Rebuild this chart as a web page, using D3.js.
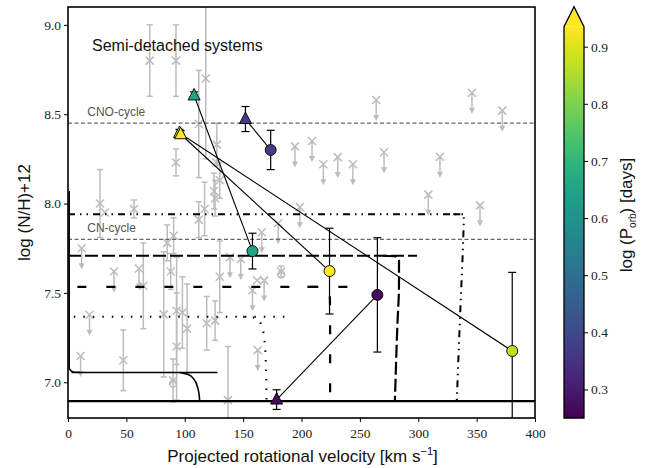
<!DOCTYPE html>
<html><head><meta charset="utf-8">
<script src="https://cdn.jsdelivr.net/npm/d3@7"></script>
<style>body{margin:0;background:#fff}</style>
</head><body><svg id="c" width="649" height="468"></svg>
<script>
// ---------------- data ----------------
// grey comparison sample: vsini, log(N/H)+12, error (0 = none), upper limit flag
const greyV   = [70, 92.5, 118, 112, 92.5, 127.5, 127, 130, 125,
                 264, 346, 372, 209, 218.7, 231, 244, 270.7, 318.6, 308.6, 352.9, 194.4,
                 27.4, 31.7, 56.5, 11.7, 39.4, 60.8, 18.4, 10.8, 47.4, 64.5,
                 112, 117, 126, 138.7, 148, 130, 158, 162, 168, 166, 180, 198.6, 182.6, 162.5,
                 137, 90, 118.8, 126,
                 82, 85, 90.5, 88, 93, 98, 93, 102];
const greyN   = [8.80, 8.80, 8.70, 8.445, 8.23, 8.33, 8.23, 8.13, 8.07,
                 8.58, 8.62, 8.52, 8.35, 8.22, 8.26, 8.22, 8.287, 8.262, 8.05, 7.99, 8.32,
                 8.00, 7.95, 7.97, 7.75, 7.62, 7.637, 7.378, 7.147, 7.123, 7.54,
                 7.91, 7.97, 8.03, 7.70, 7.69, 7.59, 7.515, 7.57, 7.57, 7.84, 7.89, 7.98, 7.62, 7.18,
                 6.90, 7.01, 7.33, 7.345,
                 7.38, 7.78, 7.82, 7.62, 7.40, 7.39, 7.20, 7.30];
const greyErr = [0.2, 0.2, 0.45, 0.3, 0.075, 0.12, 0, 0.1, 0.1,
                 0, 0, 0, 0, 0, 0, 0, 0, 0, 0, 0, 0,
                 0.19, 0, 0.05, 0, 0, 0, 0, 0, 0.17, 0.24,
                 0.1, 0.15, 0.1, 0, 0, 0.2, 0, 0, 0, 0, 0, 0, 0.03, 0,
                 0.3, 0.12, 0.15, 0.11,
                 0.35, 0.1, 0.1, 0.1, 0.3, 0.2, 0.3, 0.25];
const greyLim = [0, 0, 0, 0, 0, 0, 0, 0, 0,
                 1, 1, 1, 1, 1, 1, 1, 1, 1, 1, 1, 1,
                 0, 0, 0, 1, 1, 1, 1, 1, 0, 0,
                 0, 0, 0, 1, 1, 0, 1, 0, 1, 1, 1, 1, 0, 1,
                 0, 0, 0, 0,
                 0, 0, 0, 0, 0, 0, 0, 0];
// grey open-circle markers (binaries in the comparison sample)
const greyCircV = [90, 182.6];
const greyCircN = [7.01, 7.62];

// semi-detached systems: primary (triangle) and secondary (circle)
const sysTriV   = [178.7, 152, 108, 95.5, 96.5];
const sysTriN   = [6.903, 8.473, 8.605, 8.395, 8.388];
const sysTriErr = [0.055, 0.07, 0.02, 0.02, 0.02];
const sysCirV   = [265, 173.6, 158, 380.5, 224];
const sysCirN   = [7.489, 8.30, 7.734, 7.175, 7.622];
const sysCirErr = [0.32, 0.11, 0.10, 0.44, 0.24];
const sysLogP   = [0.27, 0.37, 0.65, 0.87, 0.93];

// reference nucleosynthesis levels
const refLevels = [8.45, 7.80];
const refLabels = ["CNO-cycle", "CN-cycle"];

// model tracks: horizontal initial levels and bending tracks
const trackHoriz = [ // [N, vmin, vmax]
  [6.894, 0, 400], [7.055, 3, 128], [7.366, 5, 190], [7.534, 8, 248], [7.708, 0, 299], [7.94, 0, 339]
];
const trackBend = [
  [[1, 8.07], [1, 7.08], [4, 7.058], [10, 7.055]],
  [[96, 7.055], [103, 7.043], [108, 7.015], [111.5, 6.96], [112.8, 6.894]],
  [[150, 7.366], [160, 7.36], [165, 7.33], [168, 7.25], [169.5, 7.1], [170, 6.894]],
  [[205, 7.534], [220, 7.532], [224, 7.51], [224.5, 7.4], [224.5, 6.894]],
  [[270, 7.708], [280, 7.705], [283.5, 7.68], [283.5, 7.55], [282, 7.3], [280, 6.894]],
  [[330, 7.94], [337, 7.94], [339, 7.92], [338.5, 7.8], [336, 7.4], [333, 6.894]]
];
const xTicks = [0, 50, 100, 150, 200, 250, 300, 350, 400];
const yTicks = [7.0, 7.5, 8.0, 8.5, 9.0];
const cTicks = [0.3, 0.4, 0.5, 0.6, 0.7, 0.8, 0.9];

// ---------------- drawing ----------------
const svg = d3.select("#c");
const L = 68, R = 535, T = 7, B = 418;
const x = d3.scaleLinear([0, 400], [L, R]);
const y = d3.scaleLinear([6.8, 9.1], [B, T]);
const cb = d3.scaleLinear([0.25, 0.935], [418, 26.7]);
const cmap = v => d3.interpolateViridis(Math.min(1, (v - 0.25) / (0.935 - 0.25)));

svg.append("defs").append("clipPath").attr("id", "clip")
  .append("rect").attr("x", L).attr("y", T).attr("width", R - L).attr("height", B - T);
const g = svg.append("g").attr("clip-path", "url(#clip)");

const grey = "#bcbcbc";
const line = d3.line().x(d => x(d[0])).y(d => y(d[1]));

// grey sample
greyV.forEach((v, i) => {
  const cx = x(v), cy = y(greyN[i]);
  if (greyLim[i]) {
    g.append("line").attr("x1", cx).attr("x2", cx).attr("y1", cy).attr("y2", cy + 18)
      .attr("stroke", grey).attr("stroke-width", 1.5);
    g.append("path").attr("d", `M${cx - 3},${cy + 15}L${cx + 3},${cy + 15}L${cx},${cy + 21}Z`).attr("fill", grey);
  } else if (greyErr[i] > 0) {
    const y1 = y(greyN[i] + greyErr[i]), y2 = y(greyN[i] - greyErr[i]);
    g.append("line").attr("x1", cx).attr("x2", cx).attr("y1", y1).attr("y2", y2)
      .attr("stroke", grey).attr("stroke-width", 1.5);
    [y1, y2].forEach(yy => g.append("line").attr("x1", cx - 3).attr("x2", cx + 3).attr("y1", yy).attr("y2", yy)
      .attr("stroke", grey).attr("stroke-width", 1.5));
  }
  g.append("path").attr("d", `M${cx - 4},${cy - 4}L${cx + 4},${cy + 4}M${cx - 4},${cy + 4}L${cx + 4},${cy - 4}`)
    .attr("stroke", grey).attr("stroke-width", 1.5);
});
greyCircV.forEach((v, i) => {
  g.append("circle").attr("cx", x(v)).attr("cy", y(greyCircN[i]) + 3).attr("r", 3.5)
    .attr("fill", "none").attr("stroke", grey).attr("stroke-width", 1.3);
});

// reference levels
refLevels.forEach((lv, i) => {
  g.append("line").attr("x1", L).attr("x2", R).attr("y1", y(lv)).attr("y2", y(lv))
    .attr("stroke", "#666").attr("stroke-width", 1.2).attr("stroke-dasharray", "4,2.5");
  svg.append("text").attr("x", x(16.5)).attr("y", y(lv) - 7).text(refLabels[i])
    .attr("font-family", "Liberation Sans, Arial, sans-serif").attr("font-size", 12).attr("fill", "#555");
});

// model tracks
const styles = [
  {w: 2.2, d: null}, {w: 1.6, d: null}, {w: 2, d: "1.5,8"},
  {w: 2.2, d: "9,20"}, {w: 2.2, d: "13,4"}, {w: 2, d: "7,5,1.5,5,1.5,5"}
];
trackHoriz.forEach((t, i) => {
  g.append("path").attr("d", line([[t[1], t[0]], [t[2], t[0]]])).attr("fill", "none")
    .attr("stroke", "#000").attr("stroke-width", styles[i].w)
    .attr("stroke-dasharray", styles[i].d);
});
const bendStyle = [1, 1, 2, 3, 4, 5];
trackBend.forEach((t, i) => {
  const s = styles[bendStyle[i]];
  g.append("path").attr("d", d3.line().x(d => x(d[0])).y(d => y(d[1])).curve(d3.curveMonotoneY)(t))
    .attr("fill", "none").attr("stroke", "#000").attr("stroke-width", s.w)
    .attr("stroke-dasharray", s.d);
});

// connecting lines
sysTriV.forEach((v, i) => {
  g.append("line").attr("x1", x(v)).attr("y1", y(sysTriN[i])).attr("x2", x(sysCirV[i])).attr("y2", y(sysCirN[i]))
    .attr("stroke", "#000").attr("stroke-width", 1.1);
});
// error bars
function ebar(v, n, e) {
  const cx = x(v), y1 = y(n + e), y2 = y(n - e);
  g.append("line").attr("x1", cx).attr("x2", cx).attr("y1", y1).attr("y2", y2).attr("stroke", "#000").attr("stroke-width", 1.2);
  [y1, y2].forEach(yy => g.append("line").attr("x1", cx - 4).attr("x2", cx + 4).attr("y1", yy).attr("y2", yy)
    .attr("stroke", "#000").attr("stroke-width", 1.2));
}
sysTriV.forEach((v, i) => { ebar(v, sysTriN[i], sysTriErr[i]); ebar(sysCirV[i], sysCirN[i], sysCirErr[i]); });
// markers
sysTriV.forEach((v, i) => {
  const cx = x(v), cy = y(sysTriN[i]);
  g.append("path").attr("d", `M${cx},${cy - 7}L${cx + 6},${cy + 4.5}L${cx - 6},${cy + 4.5}Z`)
    .attr("fill", cmap(sysLogP[i])).attr("stroke", "#000").attr("stroke-width", 0.9);
  g.append("circle").attr("cx", x(sysCirV[i])).attr("cy", y(sysCirN[i])).attr("r", 5.5)
    .attr("fill", cmap(sysLogP[i])).attr("stroke", "#000").attr("stroke-width", 0.9);
});

// axes
const serif = "Liberation Serif, DejaVu Serif, serif";
const sans = "Liberation Sans, Arial, sans-serif";
const xa = svg.append("g").attr("transform", `translate(0,${B})`)
  .call(d3.axisBottom(x).tickValues(xTicks).tickFormat(d3.format("d")).tickSize(4).tickSizeOuter(0));
const ya = svg.append("g").attr("transform", `translate(${L},0)`)
  .call(d3.axisLeft(y).tickValues(yTicks).tickFormat(d3.format(".1f")).tickSize(4).tickSizeOuter(0));
[xa, ya].forEach(a => {
  a.select(".domain").remove();
  a.selectAll("text").attr("font-family", serif).attr("font-size", 13.5).attr("fill", "#222");
  a.selectAll("line").attr("stroke", "#000");
});
xa.selectAll("text").attr("dy", "0.95em");
svg.append("rect").attr("x", L).attr("y", T).attr("width", R - L).attr("height", B - T)
  .attr("fill", "none").attr("stroke", "#000").attr("stroke-width", 1.6);

svg.append("text").attr("x", (L + R) / 2 + 1).attr("y", 462).attr("text-anchor", "middle")
  .attr("font-family", sans).attr("font-size", 17).attr("fill", "#111")
  .html('Projected rotational velocity [km s<tspan dy="-7" font-size="11">−1</tspan><tspan dy="7">]</tspan>');
svg.append("text").attr("transform", `translate(30,${(T + B) / 2}) rotate(-90)`).attr("text-anchor", "middle")
  .attr("font-family", sans).attr("font-size", 17).attr("fill", "#111").text("log (N/H)+12");
svg.append("text").attr("x", 92).attr("y", 51).attr("font-family", sans).attr("font-size", 16).attr("fill", "#111")
  .text("Semi-detached systems");

// colorbar
const CX = 564, CW = 20;
const grad = svg.select("defs").append("linearGradient").attr("id", "vir")
  .attr("x1", 0).attr("y1", 1).attr("x2", 0).attr("y2", 0);
d3.range(0, 1.0001, 0.05).forEach(t => grad.append("stop").attr("offset", t).attr("stop-color", d3.interpolateViridis(t)));
svg.append("rect").attr("x", CX).attr("y", cb(0.935)).attr("width", CW).attr("height", cb(0.25) - cb(0.935)).attr("fill", "url(#vir)");
svg.append("path").attr("d", `M${CX},${cb(0.935)}L${CX + CW / 2},6.7L${CX + CW},${cb(0.935)}Z`).attr("fill", d3.interpolateViridis(1));
svg.append("path").attr("d", `M${CX},${cb(0.25)}L${CX},${cb(0.935)}L${CX + CW / 2},6.7L${CX + CW},${cb(0.935)}L${CX + CW},${cb(0.25)}Z`)
  .attr("fill", "none").attr("stroke", "#000").attr("stroke-width", 1.3);
const ca = svg.append("g").attr("transform", `translate(${CX + CW},0)`)
  .call(d3.axisRight(cb).tickValues(cTicks).tickFormat(d3.format(".1f")).tickSize(4).tickSizeOuter(0));
ca.select(".domain").remove();
ca.selectAll("text").attr("font-family", serif).attr("font-size", 13.5).attr("fill", "#222");
ca.selectAll("line").attr("stroke", "#000");
svg.append("text").attr("transform", `translate(632,215) rotate(-90)`).attr("text-anchor", "middle")
  .attr("font-family", sans).attr("font-size", 17).attr("fill", "#111")
  .html('log (P<tspan dy="4" font-size="10">orb</tspan><tspan dy="-4">) [days]</tspan>');
</script></body></html>
